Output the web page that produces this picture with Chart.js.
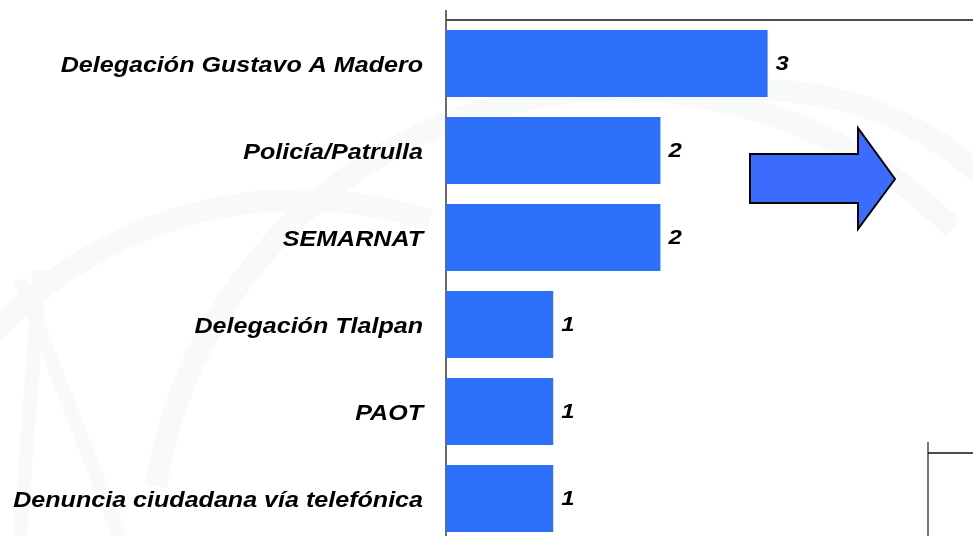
<!DOCTYPE html>
<html>
<head>
<meta charset="utf-8">
<script src="https://cdn.jsdelivr.net/npm/chart.js@4"></script>
<style>
  html, body { margin: 0; padding: 0; overflow: hidden; background: #fff; }
  canvas { display: block; }
</style>
</head>
<body>
<canvas id="chart" width="990" height="560"></canvas>
<script>
// Data
const categories = [
    'Delegación Gustavo A Madero',
    'Policía/Patrulla',
    'SEMARNAT',
    'Delegación Tlalpan',
    'PAOT',
    'Denuncia ciudadana vía telefónica'
];
const counts = [3, 2, 2, 1, 1, 1];
const axisMax = 5;

const FONT = "'Liberation Sans', Arial, sans-serif";
const STRETCH = 1.14; // source text is a bit wider than Arial

// faint watermark, labels, arrow, top rule, corner box
const decor = {
    id: 'decor',
    beforeDraw(chart) {
        const c = chart.ctx;
        c.save();
        c.fillStyle = '#fff';
        c.fillRect(0, 0, chart.width, chart.height);
        c.strokeStyle = '#f8f9f9';
        c.lineWidth = 22;
        c.beginPath(); c.arc(620, 560, 470, Math.PI * 1.05, Math.PI * 1.75); c.stroke();
        c.beginPath(); c.arc(760, 420, 330, Math.PI * 1.45, Math.PI * 2.1); c.stroke();
        c.beginPath(); c.arc(300, 620, 420, Math.PI * 1.1, Math.PI * 1.6); c.stroke();
        c.lineWidth = 14;
        c.beginPath(); c.moveTo(20, 280); c.lineTo(120, 536); c.stroke();
        c.beginPath(); c.moveTo(40, 270); c.lineTo(20, 536); c.stroke();
        c.restore();
    },
    afterDraw(chart) {
        const c = chart.ctx;
        const a = chart.chartArea;
        const y = chart.scales.y;
        c.save();
        // category labels
        c.fillStyle = '#000';
        c.font = 'italic bold 22px ' + FONT;
        c.textAlign = 'right';
        c.textBaseline = 'middle';
        categories.forEach((lab, i) => {
            c.save();
            c.translate(a.left - 23, y.getPixelForValue(i) + 2);
            c.scale(STRETCH, 1);
            c.fillText(lab, 0, 0);
            c.restore();
        });
        // top rule
        c.strokeStyle = '#111';
        c.lineWidth = 1.5;
        c.beginPath(); c.moveTo(a.left, a.top); c.lineTo(chart.width, a.top); c.stroke();
        // axis stub above plot
        c.strokeStyle = '#6b6b6b';
        c.lineWidth = 2;
        c.beginPath(); c.moveTo(a.left, 10); c.lineTo(a.left, a.top); c.stroke();
        // arrow
        c.beginPath();
        c.moveTo(750, 154); c.lineTo(858, 154); c.lineTo(858, 128);
        c.lineTo(895, 179); c.lineTo(858, 229); c.lineTo(858, 203);
        c.lineTo(750, 203); c.closePath();
        c.fillStyle = '#3b6cfe';
        c.fill();
        c.strokeStyle = '#000';
        c.lineWidth = 2;
        c.stroke();
        // corner box
        c.strokeStyle = '#777';
        c.lineWidth = 2;
        c.beginPath(); c.moveTo(928, 442); c.lineTo(928, 560); c.stroke();
        c.strokeStyle = '#111';
        c.lineWidth = 1.5;
        c.beginPath(); c.moveTo(928, 453); c.lineTo(chart.width, 453); c.stroke();
        c.restore();
    },
    afterDatasetsDraw(chart) {
        const c = chart.ctx;
        const meta = chart.getDatasetMeta(0);
        c.save();
        c.font = 'italic bold 21px ' + FONT;
        c.fillStyle = '#000';
        c.textBaseline = 'middle';
        meta.data.forEach((bar, i) => {
            c.save();
            c.translate(bar.x + 8, bar.y + 1);
            c.scale(STRETCH, 1);
            c.fillText(String(counts[i]), 0, 0);
            c.restore();
        });
        c.restore();
    }
};

new Chart(document.getElementById('chart'), {
    type: 'bar',
    data: {
        labels: categories,
        datasets: [{
            data: counts,
            backgroundColor: '#2b6ffa',
            borderWidth: 0,
            categoryPercentage: 1,
            barPercentage: 0.77
        }]
    },
    options: {
        indexAxis: 'y',
        responsive: false,
        animation: false,
        layout: { padding: { top: 20, bottom: 18, right: 8, left: 0 } },
        plugins: {
            legend: { display: false },
            tooltip: { enabled: false }
        },
        scales: {
            x: {
                display: false,
                min: 0,
                max: axisMax
            },
            y: {
                afterFit: s => { s.width = 446; s.paddingTop = 0; s.paddingBottom = 0; },
                grid: { display: false, drawTicks: false },
                border: { display: true, color: '#6b6b6b', width: 2 },
                ticks: { display: false }
            }
        }
    },
    plugins: [decor]
});
</script>
</body>
</html>
